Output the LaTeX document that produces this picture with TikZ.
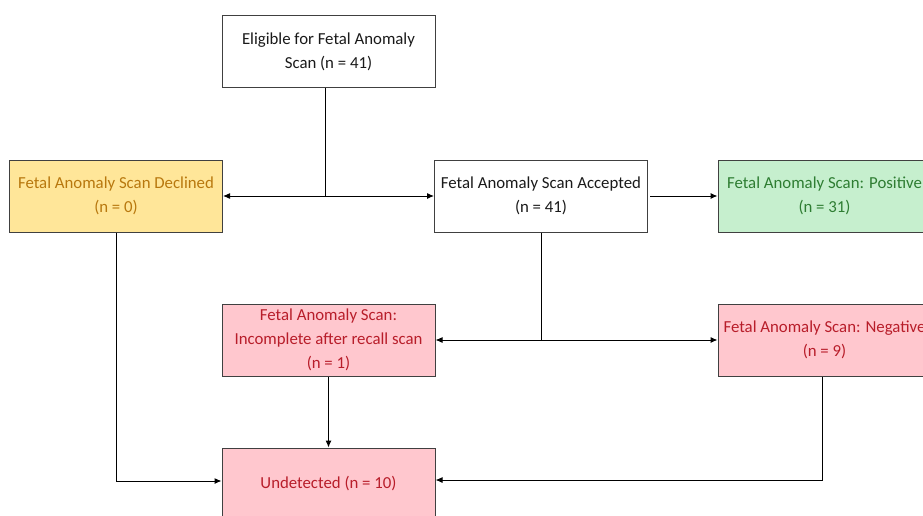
\documentclass[tikz,border=0pt]{standalone}
\usepackage{fontspec}
\setmainfont{Carlito}
\usetikzlibrary{arrows.meta}
\definecolor{bordc}{HTML}{404040}
\definecolor{yelfill}{HTML}{FFE699}
\definecolor{yeltext}{HTML}{B8780E}
\definecolor{grnfill}{HTML}{C6EFCE}
\definecolor{grntext}{HTML}{2E7D32}
\definecolor{redfill}{HTML}{FFC7CE}
\definecolor{redtext}{HTML}{B81D2A}
\definecolor{blktext}{HTML}{1A1A1A}
\tikzset{
  box/.style={draw=bordc, line width=1pt, minimum width=213pt, minimum height=72pt,
    inner sep=0pt, align=center, font=\fontsize{16.8}{24}\selectfont, text=blktext},
  yelbox/.style={box, fill=yelfill, text=yeltext},
  grnbox/.style={box, fill=grnfill, text=grntext},
  redbox/.style={box, fill=redfill, text=redtext},
  conn/.style={draw=black, line width=1pt},
  arr/.style={conn, -{Latex[length=7pt,width=6pt]}},
  darr/.style={conn, {Latex[length=7pt,width=6pt]}-{Latex[length=7pt,width=6pt]}}
}
\begin{document}
\begin{tikzpicture}[x=1pt,y=-1pt]
\useasboundingbox (0,0) rectangle (923,516);
\clip (0,0) rectangle (923,516);
\fill[white] (0,0) rectangle (923,516);
\node[box] (elig) at (328.5,51.5) {Eligible for Fetal Anomaly\\Scan (n = 41)};
\node[yelbox] (decl) at (116,196) {Fetal Anomaly Scan Declined\\(n = 0)};
\node[box] (acc) at (541,196) {Fetal Anomaly Scan Accepted\\(n = 41)};
\node[grnbox] (pos) at (824.5,196) {Fetal Anomaly Scan: Positive\\(n = 31)};
\node[redbox] (inc) at (328.5,340) {Fetal Anomaly Scan:\\Incomplete after recall scan\\(n = 1)};
\node[redbox] (neg) at (824.5,340) {Fetal Anomaly Scan: Negative\\(n = 9)};
\node[redbox] (und) at (328.5,484) {Undetected (n = 10)};
\coordinate (j1) at (325,196);
\coordinate (j2) at (541,340);
\draw[darr] (decl.east) -- (acc.west);
\draw[conn] (elig.south -| j1) -- (j1);
\draw[arr] ([xshift=2pt]acc.east) -- (pos.west);
\draw[darr] (inc.east) -- (neg.west);
\draw[conn] (acc.south) -- (j2);
\draw[arr] (decl.south) |- ([yshift=3pt]und.west);
\draw[arr] (inc.south) -- (und.north);
\draw[arr] ([xshift=-2pt]neg.south) |- ([yshift=4pt]und.east);
\end{tikzpicture}
\end{document}
